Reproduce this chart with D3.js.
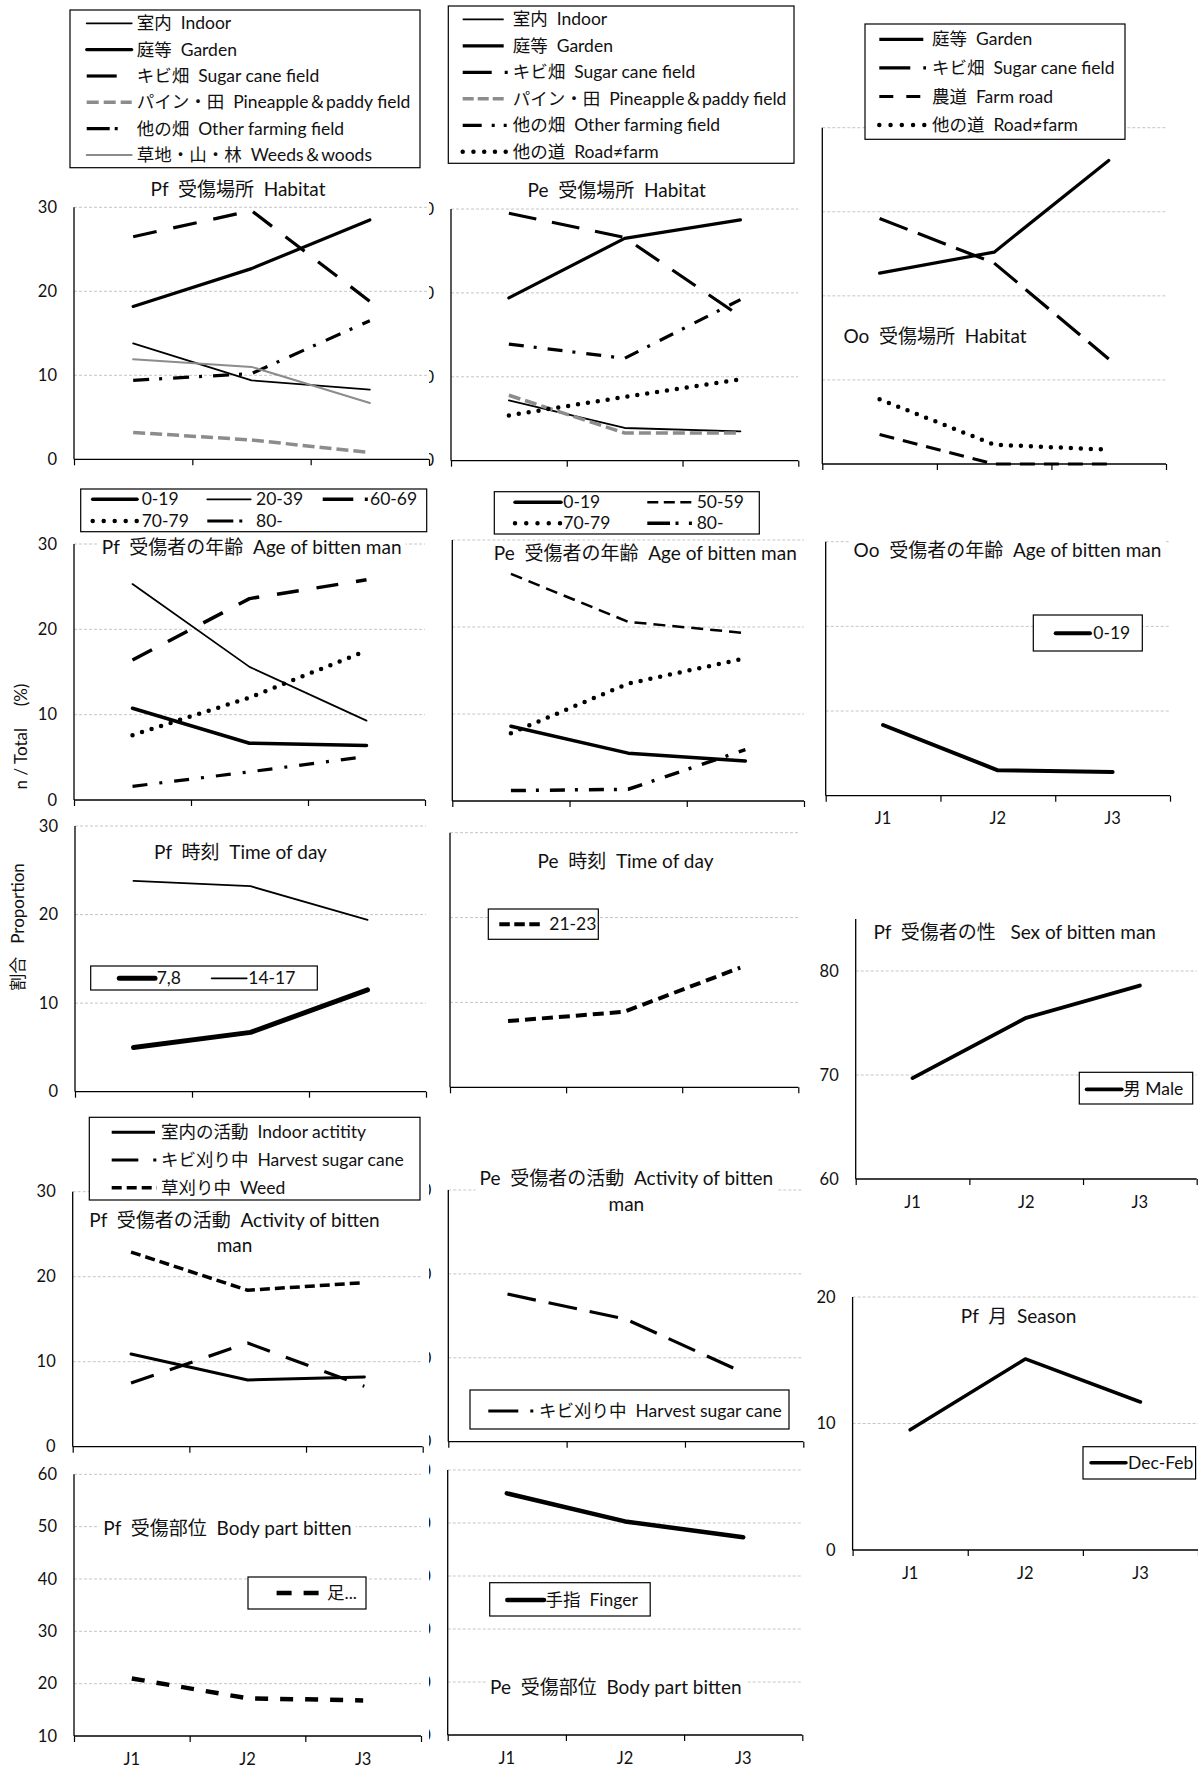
<!DOCTYPE html>
<html><head><meta charset="utf-8">
<script src="https://cdn.jsdelivr.net/npm/d3@7/dist/d3.min.js"></script>
<style>
html,body{margin:0;padding:0;background:#fff;}
svg text{font-family:Lato,"Noto Sans CJK JP",sans-serif;white-space:pre;fill:#111;}
</style></head><body>
<svg id="chart" width="1198" height="1769"></svg>
<script>
// ---------------- DATA ----------------
const categories = ["J1","J2","J3"];

const pfHabitatNames = ["室内  Indoor","庭等  Garden","キビ畑  Sugar cane field","パイン・田  Pineapple＆paddy field","他の畑  Other farming field","草地・山・林  Weeds＆woods"];
const pfHabitatValues = [[13.8,9.4,8.3],[18.2,22.7,28.5],[26.5,29.6,18.8],[3.2,2.3,0.8],[9.4,10.2,16.5],[11.9,11.0,6.7]];

const peHabitatNames = ["室内  Indoor","庭等  Garden","キビ畑  Sugar cane field","パイン・田  Pineapple＆paddy field","他の畑  Other farming field","他の道  Road≠farm"];
const peHabitatValues = [[7.2,3.9,3.5],[19.4,26.5,28.7],[29.5,26.6,17.2],[7.8,3.3,3.3],[13.9,12.2,19.2],[5.4,7.6,9.7]];

const ooHabitatNames = ["庭等  Garden","キビ畑  Sugar cane field","農道  Farm road","他の道  Road≠farm"];
const ooHabitatValues = [[22.7,25.2,36.1],[29.2,23.9,12.5],[3.5,0,0],[7.7,2.3,1.7]];

const pfAgeNames = ["0-19","20-39","60-69","70-79","80-"];
const pfAgeValues = [[10.75,6.65,6.4],[25.3,15.6,9.3],[16.4,23.6,25.8],[7.6,12.0,17.5],[1.6,3.3,5.1]];

const peAgeNames = ["0-19","50-59","70-79","80-"];
const peAgeValues = [[8.6,5.5,4.6],[26.1,20.6,19.3],[7.8,13.5,16.4],[1.2,1.35,5.9]];

const ooAgeNames = ["0-19"];
const ooAgeValues = [[8.35,3.0,2.8]];

const pfTimeNames = ["7,8","14-17"];
const pfTimeValues = [[5.0,6.7,11.5],[23.8,23.2,19.4]];

const peTimeNames = ["21-23"];
const peTimeValues = [[7.8,8.9,14.1]];

const pfSexNames = ["男 Male"];
const pfSexValues = [[69.7,75.5,78.6]];

const pfActivityNames = ["室内の活動  Indoor actitity","キビ刈り中  Harvest sugar cane","草刈り中  Weed"];
const pfActivityValues = [[10.9,7.85,8.2],[7.5,12.2,7.1],[22.9,18.4,19.3]];

const peActivityNames = ["キビ刈り中  Harvest sugar cane"];
const peActivityValues = [[17.6,14.6,8.2]];

const pfSeasonNames = ["Dec-Feb"];
const pfSeasonValues = [[9.5,15.1,11.7]];

const pfBodyNames = ["足..."];
const pfBodyValues = [[21.0,17.2,16.8]];

const peBodyNames = ["手指  Finger"];
const peBodyValues = [[55.6,50.3,47.3]];

const ticks30 = [0,10,20,30];
const ticks40 = [0,10,20,30,40];
const ticksSex = [60,70,80];
const ticksSeason = [0,10,20];
const ticksBody = [10,20,30,40,50,60];

const yTitle1 = "n / Total     (%)";
const yTitle2 = "割合   Proportion";

// ---------------- LAYOUT / STYLE ----------------
const GRAY = "#8c8c8c";
const panels = [
 {names:pfHabitatNames, values:pfHabitatValues,
  styles:[{w:1.8},{w:3.2},{w:3.2,dash:"24,17",ldash:"30,100"},{w:3.5,c:GRAY,dash:"12,5"},{w:3.2,dash:"16,10,3,11",ldash:"23,5,3,100"},{w:2,c:GRAY}],
  x0:74,x1:429,yb:459.3,yt:207.3,domain:[0,30],ticks:ticks30,labels:"full",cat:false,
  title:{x:238,y:189,lines:["Pf  受傷場所  Habitat"]},
  legend:{box:[70,10,350,157.7],rows:[23.3,49.6,76,102.3,128.6,155],cols:[[86.7,131.7,136.7]]}},
 {names:peHabitatNames, values:peHabitatValues,
  styles:[{w:1.8,ldash:"41,100"},{w:3.2,ldash:"41,100"},{w:3.2,dash:"28,16",ldash:"29,13,3,100"},{w:3.5,c:GRAY,dash:"12,5",ldash:"11,4,11,4,11,100"},{w:3.2,dash:"15,10,3,11",ldash:"19,10,3,9,3,100"},{w:4.5,dot:10,ldot:10.75}],
  x0:451,x1:798.3,yb:460.7,yt:209,domain:[0,30],ticks:ticks30,labels:"clip",cat:false,
  title:{x:616.7,y:190,lines:["Pe  受傷場所  Habitat"]},
  legend:{box:[448.3,6,345.7,157.3],rows:[19.3,45.8,72.3,98.8,125.3,151.8],cols:[[462.7,509,512.7]]}},
 {names:ooHabitatNames, values:ooHabitatValues,
  styles:[{w:3.2,ldash:"44,100"},{w:3.2,dash:"30,11",ldash:"31,13,3,100"},{w:3.2,dash:"15,9",ldash:"14,13,14,100"},{w:4.5,dot:10,ldot:11.25}],
  x0:822.3,x1:1166,yb:464,yt:127.7,domain:[0,40],ticks:ticks40,labels:"none",cat:false,
  title:{x:935,y:336.7,lines:["Oo  受傷場所  Habitat"]},
  legend:{box:[865,24,260,115.3],rows:[39.3,67.9,96.5,125],cols:[[879.3,926,932]]}},
 {names:pfAgeNames, values:pfAgeValues,
  styles:[{w:3.5},{w:1.8},{w:3.5,dash:"22,18",ldash:"30.6,11.5,3,100"},{w:4.5,dot:10,ldot:11},{w:3.2,dash:"15,12,3,12",ldash:"26,6,3,100"}],
  x0:74,x1:425,yb:800,yt:544,domain:[0,30],ticks:ticks30,labels:"full",cat:false,
  title:{x:251.7,y:547.7,lines:["Pf  受傷者の年齢  Age of bitten man"],bg:true},
  legend:{box:[80.7,489,346,42.7],rows:[499.3,521],cols:[[92.7,137,141.7],[207.3,250.7,256],[322.7,368,370]],place:[[0,0],[1,0],[2,0],[0,1],[1,1]]}},
 {names:peAgeNames, values:peAgeValues,
  styles:[{w:3.5},{w:2.5,dash:"12,7",ldash:"11,5.5"},{w:4.5,dot:10,ldot:11.25},{w:3.5,dash:"15,10,3,11",ldash:"22.7,5.5,3,10.4,3,100"}],
  x0:452.3,x1:804,yb:801,yt:540,domain:[0,30],ticks:ticks30,labels:"none",cat:false,
  title:{x:645.3,y:553.3,lines:["Pe  受傷者の年齢  Age of bitten man"],bg:true},
  legend:{box:[494.3,491.7,265,42.3],rows:[502.3,523.3],cols:[[515,561,563.3],[647.3,692.5,696.7]],place:[[0,0],[1,0],[0,1],[1,1]]}},
 {names:ooAgeNames, values:ooAgeValues,
  styles:[{w:4}],
  x0:825.7,x1:1170,yb:795.7,yt:541.7,domain:[0,30],ticks:ticks30,labels:"none",cat:true,
  title:{x:1007.5,y:550,lines:["Oo  受傷者の年齢  Age of bitten man"],bg:true},
  legend:{box:[1033.3,615,109,36],rows:[633.3],cols:[[1055.7,1090,1093.3]]}},
 {names:pfTimeNames, values:pfTimeValues,
  styles:[{w:5},{w:1.8}],
  x0:75,x1:426,yb:1091.7,yt:826,domain:[0,30],ticks:ticks30,labels:"full",cat:false,
  title:{x:240.5,y:852.7,lines:["Pf  時刻  Time of day"]},
  legend:{box:[90.7,966,226.6,24],rows:[978.3],cols:[[119.3,155,156.7],[211.7,246.7,248.3]],place:[[0,0],[1,0]]}},
 {names:peTimeNames, values:peTimeValues,
  styles:[{w:4,dash:"11,6",ldash:"10.5,4.5"}],
  x0:450,x1:798.3,yb:1087.3,yt:832.7,domain:[0,30],ticks:ticks30,labels:"none",cat:false,
  title:{x:625.5,y:861.7,lines:["Pe  時刻  Time of day"]},
  legend:{box:[488.3,909,110,30.3],rows:[924.3],cols:[[499.3,540,549.3]]}},
 {names:pfSexNames, values:pfSexValues,
  styles:[{w:3.8}],
  x0:855.7,x1:1196.7,yb:1179,yt:919,domain:[60,85],ticks:ticksSex,labels:"full",cat:true,
  title:{x:1014.7,y:932.7,lines:["Pf  受傷者の性   Sex of bitten man"]},
  legend:{box:[1079.3,1072.3,113.4,31.7],rows:[1089.3],cols:[[1086.7,1121.7,1123.3]]}},
 {names:pfActivityNames, values:pfActivityValues,
  styles:[{w:3,ldash:"43.3,100"},{w:3.2,dash:"24,17",ldash:"26.6,15,3,100"},{w:3.5,dash:"10,5"}],
  x0:72.7,x1:422.7,yb:1446.7,yt:1191.7,domain:[0,30],ticks:ticks30,labels:"full",cat:false,
  title:{x:234.5,y:1220,lh:25,lines:["Pf  受傷者の活動  Activity of bitten","man"]},
  legend:{box:[89.3,1117.3,330.7,82.7],rows:[1132.3,1160,1187.7],cols:[[111.7,157,161]]}},
 {names:peActivityNames, values:peActivityValues,
  styles:[{w:3.2,dash:"29,13",ldash:"30,12,3,100"}],
  x0:448.3,x1:803.3,yb:1441.7,yt:1190,domain:[0,30],ticks:ticks30,labels:"clip",cat:false,
  title:{x:626.4,y:1178.3,lh:25.7,lines:["Pe  受傷者の活動  Activity of bitten","man"],bg:true},
  legend:{box:[470,1390,319,39],rows:[1411],cols:[[488.3,534,539]]}},
 {names:pfSeasonNames, values:pfSeasonValues,
  styles:[{w:3.5}],
  x0:852.6,x1:1198,yb:1550,yt:1297,domain:[0,20],ticks:ticksSeason,labels:"full",cat:true,
  title:{x:1018.6,y:1316.4,lines:["Pf  月  Season"]},
  legend:{box:[1083,1446.7,112.6,32.3],rows:[1462.7],cols:[[1091,1126,1128]]}},
 {names:pfBodyNames, values:pfBodyValues,
  styles:[{w:4.5,dash:"13,12",ldash:"15,12,15,100"}],
  x0:74,x1:421,yb:1736,yt:1474.3,domain:[10,60],ticks:ticksBody,labels:"full",cat:true,
  title:{x:227.5,y:1528.3,lines:["Pf  受傷部位  Body part bitten"],bg:true},
  legend:{box:[248,1577,118,32],rows:[1593],cols:[[276.6,320,327]]}},
 {names:peBodyNames, values:peBodyValues,
  styles:[{w:4.5}],
  x0:447.7,x1:802.3,yb:1735,yt:1470,domain:[10,60],ticks:ticksBody,labels:"clip",cat:true,
  title:{x:615.8,y:1687.3,lines:["Pe  受傷部位  Body part bitten"],bg:true},
  legend:{box:[489.7,1582.7,160.5,33.3],rows:[1600],cols:[[507.3,544,545.5]]}}
];

// ---------------- DRAW ----------------
const svg = d3.select("#chart");
svg.append("rect").attr("width",1198).attr("height",1769).attr("fill","#fff");
const defs = svg.append("defs");
const plotLayer = svg.append("g");
const topLayer = svg.append("g");

function applyStyle(sel, st, legend){
  sel.attr("fill","none").attr("stroke", st.c || "#000").attr("stroke-width", st.w)
     .attr("stroke-linejoin","round");
  if (st.dot){
    sel.attr("stroke-dasharray", "0," + (legend ? (st.ldot||st.dot) : st.dot)).attr("stroke-linecap","round");
  } else {
    const d = legend ? (st.ldash || st.dash) : st.dash;
    if (d) sel.attr("stroke-dasharray", d).attr("stroke-linecap","butt");
    else sel.attr("stroke-linecap","round");
  }
}

panels.forEach((p, pi) => {
  const g = plotLayer.append("g");
  const x = d3.scaleBand().domain(categories).range([p.x0, p.x1]);
  const y = d3.scaleLinear().domain(p.domain).range([p.yb, p.yt]);
  const grid = p.ticks.filter(t => t !== p.domain[0]);

  // gridlines
  g.selectAll(null).data(grid).join("line")
    .attr("x1", p.x0).attr("x2", p.x1)
    .attr("y1", d => y(d)).attr("y2", d => y(d))
    .attr("stroke", "#c6c6c6").attr("stroke-width", 1).attr("stroke-dasharray", "3,2");

  // y tick labels
  if (p.labels !== "none"){
    const ya = d3.axisLeft(y).tickValues(p.ticks).tickSize(0).tickPadding(17).tickFormat(d3.format("d"));
    const ag = g.append("g").attr("transform", `translate(${p.x0},0)`).call(ya);
    ag.select(".domain").remove();
    ag.selectAll("text").attr("font-size", 16.5).attr("font-family", null).attr("fill","#111");
    if (p.labels === "clip"){
      const id = "clip" + pi;
      defs.append("clipPath").attr("id", id).append("rect")
        .attr("x", 429 - p.x0).attr("y", -2000).attr("width", 30).attr("height", 6000);
      ag.attr("clip-path", `url(#${id})`);
    }
  }

  // x axis: boundary ticks from a linear scale over the bands
  const xb = d3.scaleLinear().domain([0, categories.length]).range([p.x0, p.x1]);
  const xa = d3.axisBottom(xb).tickValues(d3.range(categories.length + 1)).tickSize(6).tickSizeOuter(0).tickFormat("");
  const xg = g.append("g").attr("transform", `translate(0,${p.yb})`).call(xa);
  xg.select(".domain").remove();
  xg.selectAll("line").attr("stroke","#000").attr("stroke-width",1.2);
  g.append("line").attr("x1", p.x0).attr("x2", p.x1).attr("y1", p.yb).attr("y2", p.yb)
    .attr("stroke", "#000").attr("stroke-width", 1.3);
  g.append("line").attr("x1", p.x0).attr("x2", p.x0).attr("y1", p.yt).attr("y2", p.yb)
    .attr("stroke", "#000").attr("stroke-width", 1.3);

  if (p.cat){
    const ca = d3.axisBottom(x).tickSize(0).tickPadding(17);
    const cg = g.append("g").attr("transform", `translate(0,${p.yb})`).call(ca);
    cg.select(".domain").remove();
    cg.selectAll("text").attr("font-size", 16.5).attr("font-family", null).attr("fill","#111");
  }

  // series lines
  const line = d3.line().x((d, i) => x(categories[i]) + x.bandwidth() / 2).y(d => y(d));
  p.values.forEach((vals, si) => {
    const path = g.append("path").attr("d", line(vals));
    applyStyle(path, p.styles[si], false);
  });

  // title with white backing
  const tg = topLayer.append("g");
  const lh = p.title.lh || 25;
  const tt = tg.append("text").attr("font-size", 19).attr("text-anchor", "middle");
  p.title.lines.forEach((ln, li) => {
    tt.append("tspan").attr("x", p.title.x).attr("y", p.title.y + li * lh).attr("dy", "0.35em").text(ln);
  });
  if (p.title.bg){
    const bb = tt.node().getBBox();
    tg.insert("rect", "text").attr("x", bb.x - 4).attr("y", bb.y + 1).attr("width", bb.width + 8)
      .attr("height", bb.height - 2).attr("fill", "#fff");
  }

  // legend
  const L = p.legend;
  const lg = topLayer.append("g");
  lg.append("rect").attr("x", L.box[0]).attr("y", L.box[1]).attr("width", L.box[2]).attr("height", L.box[3])
    .attr("fill", "#fff").attr("stroke", "#000").attr("stroke-width", 1.2);
  p.names.forEach((nm, si) => {
    const pl = L.place ? L.place[si] : [0, si];
    const col = L.cols[pl[0]], yy = L.rows[pl[1]];
    const sample = lg.append("line").attr("x1", col[0]).attr("x2", col[1]).attr("y1", yy).attr("y2", yy);
    applyStyle(sample, p.styles[si], true);
    lg.append("text").attr("x", col[2]).attr("y", yy).attr("dy", "0.35em").attr("font-size", 17.5).text(nm);
  });
});

// y-axis titles
topLayer.append("text").attr("transform", "translate(21,736.5) rotate(-90)").attr("text-anchor", "middle")
  .attr("dy", "0.35em").attr("font-size", 17).text(yTitle1);
topLayer.append("text").attr("transform", "translate(18,927) rotate(-90)").attr("text-anchor", "middle")
  .attr("dy", "0.35em").attr("font-size", 17).text(yTitle2);
</script></body></html>
